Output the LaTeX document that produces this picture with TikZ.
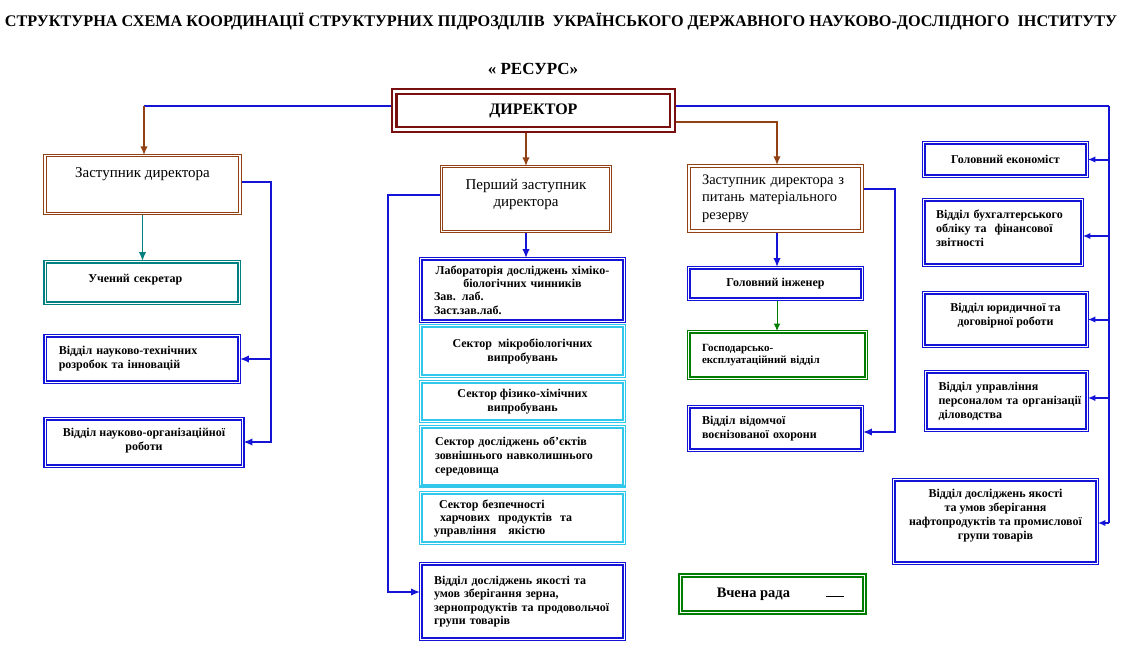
\documentclass[tikz,border=0pt]{standalone}
\usepackage{fontspec}
\setmainfont{Liberation Serif}
\usetikzlibrary{arrows.meta,backgrounds}
\definecolor{maroonc}{RGB}{120,16,16}
\definecolor{brownc}{RGB}{145,65,20}
\definecolor{bluec}{RGB}{20,20,215}
\definecolor{tealc}{RGB}{0,128,128}
\definecolor{cyanc}{RGB}{50,200,235}
\definecolor{greenc}{RGB}{0,125,0}
\newcommand\dn[1]{\rule[-#1]{0pt}{#1}}
\begin{document}
\begin{tikzpicture}[x=1pt,y=-1pt,
  box/.style={draw, fill=white, double=white, line width=1.3pt, double distance=1.1pt,
    inner sep=0pt, align=center, font=\bfseries\fontsize{12}{14}\selectfont},
  bbox/.style={box, draw=bluec},
  cbox/.style={box, draw=cyanc},
  tbox/.style={box, draw=tealc},
  gbox/.style={box, draw=greenc},
  rbox/.style={box, draw=brownc, line width=1pt, double distance=1.4pt,
    font=\fontsize{15}{17.5}\selectfont},
  sz/.style 2 args={minimum width=#1, minimum height=#2},
  bline/.style={draw=bluec, line width=2pt},
  brline/.style={draw=brownc, line width=2pt},
  tip/.style={-{Latex[length=9pt,width=7.5pt]}},
  stip/.style={-{Latex[length=7.5pt,width=6.5pt]}}
]
\useasboundingbox (0,0) rectangle (1126,654);

% titles
\node[font=\bfseries\fontsize{16}{18}\selectfont, inner sep=0pt] (title) at (561,21)
  {\resizebox{1112pt}{!}{СТРУКТУРНА СХЕМА КООРДИНАЦІЇ СТРУКТУРНИХ ПІДРОЗДІЛІВ~ УКРАЇНСЬКОГО ДЕРЖАВНОГО НАУКОВО-ДОСЛІДНОГО~ ІНСТИТУТУ}};
\node[font=\bfseries\fontsize{17}{19}\selectfont, inner sep=0pt] (resurs) at (533,69) {«~РЕСУРС»};

% director
\node[box, draw=maroonc, line width=2.2pt, double distance=2.3pt, sz={278.3pt}{38pt},
  font=\bfseries\fontsize{16}{19}\selectfont] (dir) at (533.4,110.5) {ДИРЕКТОР};

% left column
\node[rbox, sz={195pt}{57.5pt}] (zd) at (142.5,184.5) {Заступник директора\dn{23pt}};
\node[tbox, sz={194pt}{41.5pt}, text width=190pt, align=left] (us) at (142.25,282.5)
  {\hspace*{41pt}Учений секретар\dn{9pt}};
\node[bbox, sz={194pt}{46.5pt}, text width=167pt, align=left] (nt) at (142.25,359)
  {Відділ науково-технічних\\розробок та інновацій};
\node[bbox, sz={197.5pt}{47.5pt}] (no) at (144,442.5) {Відділ науково-організаційної\\роботи\dn{6pt}};

% middle column
\node[rbox, sz={168.5pt}{64.5pt}] (pz) at (526,199) {Перший заступник\\директора\dn{12pt}};
\node[bbox, sz={203.5pt}{62.5pt}, text width=177pt, align=left,
  font=\bfseries\fontsize{12}{13.3}\selectfont] (lab) at (522.5,290)
  {\makebox[177pt]{Лабораторія досліджень хіміко-}\\\makebox[177pt]{біологічних чинників}\\Зав. лаб.\\Заст.зав.лаб.};
\node[cbox, sz={203.5pt}{50.5pt}] (mic) at (522.5,351) {Сектор~ мікробіологічних\\випробувань};
\node[cbox, sz={203.5pt}{39.5pt}] (phy) at (522.5,401.5) {Сектор фізико-хімічних\\випробувань};
\node[cbox, sz={203.5pt}{59.5pt}, text width=175pt, align=left] (env) at (522.5,456.5)
  {Сектор досліджень об’єктів\\зовнішнього навколишнього\\середовища};
\node[cbox, sz={203.5pt}{50.5pt}, text width=177pt, align=left,
  font=\bfseries\fontsize{12}{13}\selectfont] (food) at (522.5,518)
  {\hspace*{5pt}Сектор безпечності\\\hspace*{6pt}харчових~ продуктів~ та\\управління~~ якістю};
\draw[cyanc, line width=3pt] (env.south west) -- (env.south east);
\node[bbox, sz={203.5pt}{75.5pt}, text width=177pt, align=left,
  font=\bfseries\fontsize{12}{13.5}\selectfont] (vz) at (522.5,601.5)
  {Відділ досліджень якості та\\умов зберігання зерна,\\зернопродуктів та продовольчої\\групи товарів};

% right-middle column
\node[rbox, line width=1.5pt, double distance=1.1pt, sz={173pt}{65pt}, text width=147pt, align=left,
  font=\fontsize{14.5}{17.5}\selectfont]
  (zm) at (775.5,198.5) {Заступник директора з\\питань матеріального\\резерву};
\node[bbox, sz={173.5pt}{31.5pt}] (gi) at (775.5,283.5) {Головний інженер};
\node[gbox, sz={177.5pt}{46.5pt}, text width=151pt, align=left,
  font=\bfseries\fontsize{11}{12.5}\selectfont] (ge) at (777.5,355)
  {Господарсько-\\експлуатаційний відділ};
\node[bbox, sz={173.5pt}{43.5pt}, text width=147pt, align=left] (vo) at (775.5,428.5)
  {Відділ відомчої\\воєнізованої охорони};
\node[gbox, line width=1.7pt, double distance=1.4pt, sz={184pt}{37pt},
  font=\bfseries\fontsize{14.5}{16}\selectfont] (vr) at (772.5,594)
  {\hspace*{16pt}Вчена рада\hspace{36pt}\rule{18pt}{0.9pt}};

% right column
\node[bbox, sz={163.5pt}{33.5pt}] (ec) at (1005.5,159.5) {Головний економіст};
\node[bbox, sz={158.5pt}{65.5pt}, text width=134pt, align=left] (bo) at (1003,232.5)
  {Відділ бухгалтерського\\обліку та~ фінансової\\звітності\dn{8pt}};
\node[bbox, sz={163.5pt}{53.5pt}] (yu) at (1005.5,319.5) {Відділ юридичної та\\договірної роботи\dn{10pt}};
\node[bbox, sz={161.5pt}{58.5pt}, text width=160pt, align=left] (up) at (1006.5,401)
  {\hspace*{12pt}Відділ управління\\\hspace*{12pt}персоналом та організації\\\hspace*{12pt}діловодства};
\node[bbox, sz={203.5pt}{83.5pt}] (nf) at (995.5,521.5)
  {Відділ досліджень якості\\та умов зберігання\\нафтопродуктів та промислової\\групи товарів\dn{14pt}};

% connectors
\coordinate (jL) at (144,105.7);
\coordinate (jR) at (777,122);
\coordinate (tr0) at (1109,105.7);
\coordinate (tr1) at (1109,523);
\coordinate (j1a) at (271,182);
\coordinate (j1b) at (271,442);
\coordinate (j2a) at (388,195);
\coordinate (j2b) at (388,592);
\coordinate (j3a) at (895,189);
\coordinate (j3b) at (895,432);
\coordinate (a15) at (1109,236);
\coordinate (a17) at (1109,398);

\begin{pgfonlayer}{background}
\fill[white] (0,0) rectangle (1126,654);
\draw[bline, line width=1.8pt] (dir.west |- jL) -- (jL);
\draw[brline, tip] (jL) -- (jL |- zd.north);
\draw[bline, line width=1.8pt] (dir.east |- tr0) -- (tr0);
\draw[bline, line width=2.2pt] (tr0) -- (tr1);
\draw[bline, stip] (tr0 |- ec.east) -- (ec.east);
\draw[bline, stip] (a15) -- (bo.east |- a15);
\draw[bline, stip] (tr0 |- yu.east) -- (yu.east);
\draw[bline, stip] (a17) -- (up.east |- a17);
\draw[bline, stip] (tr1) -- (nf.east |- tr1);
\draw[brline, tip] (dir.east |- jR) -- (jR) -- (jR |- zm.north);
\draw[brline, tip] (pz.north |- dir.south) -- (pz.north);
\draw[bline, tip] (zd.east |- j1a) -- (j1a) -- (j1b) -- (no.east |- j1b);
\draw[bline, tip] (j1a |- nt.east) -- (nt.east);
\draw[draw=tealc, line width=1.8pt, tip] (zd.south) -- (zd.south |- us.north);
\draw[bline, tip] (pz.west |- j2a) -- (j2a) -- (j2b) -- (vz.west |- j2b);
\draw[bline, tip] (pz.south) -- (pz.south |- lab.north);
\draw[bline, tip] (zm.east |- j3a) -- (j3a) -- (j3b) -- (vo.east |- j3b);
\draw[bline, tip] (jR |- zm.south) -- (jR |- gi.north);
\draw[draw=greenc, line width=1pt, stip] (jR |- gi.south) -- (jR |- ge.north);
\end{pgfonlayer}
\end{tikzpicture}
\end{document}
